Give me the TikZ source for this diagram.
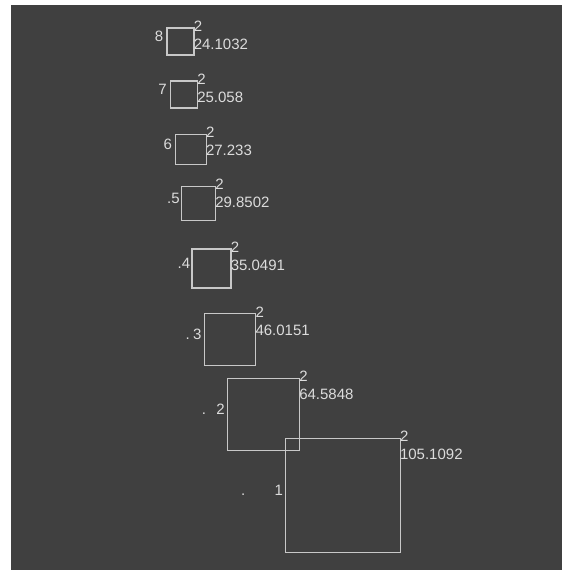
\documentclass[tikz,border=0pt]{standalone}
\usepackage{fontspec}
\setmainfont{Liberation Sans}
\definecolor{bgdark}{RGB}{64,64,64}
\definecolor{sqgray}{RGB}{200,200,200}
\definecolor{lblgray}{RGB}{220,220,220}
\usetikzlibrary{positioning}

\begin{document}
\begin{tikzpicture}[x=1pt, y=-1pt,
  sqbox/.style={draw=sqgray, line width=1.2pt, inner sep=0pt},
  numlbl/.style={text=lblgray, font=\fontsize{15}{17}\selectfont, inner sep=0pt}]

\useasboundingbox (0,0) rectangle (566,570);
\fill[bgdark] (11,5) rectangle (562,570);

% squares
\node[sqbox, minimum size=27pt]   (sq8) at (180.5,41.5) {};
\node[sqbox, minimum size=27pt]   (sq7) at (184,94.5) {};
\node[sqbox, minimum size=30.5pt] (sq6) at (191,149.5) {};
\node[sqbox, minimum size=34pt]   (sq5) at (198.5,203.5) {};
\node[sqbox, minimum size=39pt]   (sq4) at (211.5,268.5) {};
\node[sqbox, minimum size=51.5pt] (sq3) at (230,339.5) {};
\node[sqbox, minimum size=72pt]   (sq2) at (263.5,414.5) {};
\node[sqbox, minimum size=114.5pt] (sq1) at (343,495.5) {};

% left labels
\node[numlbl, anchor=base east] (l8) at ([xshift=-3pt]sq8.west) {8};
\node[numlbl, anchor=base east] (l7) at ([xshift=-3pt]sq7.west) {7};
\node[numlbl, anchor=base east] (l6) at ([xshift=-3pt]sq6.west) {6};
\node[numlbl, anchor=base east] (l5) at ([xshift=-1pt]sq5.west) {.5};
\node[numlbl, anchor=base east] (l4) at ([xshift=-1pt]sq4.west) {.4};
\node[numlbl, anchor=base east] (l3) at ([xshift=-2pt]sq3.west) {3};
\node[numlbl, anchor=base east] (l2) at ([xshift=-2pt]sq2.west) {2};
\node[numlbl, anchor=base east] (l1) at ([xshift=-2pt]sq1.west) {1};
\node[numlbl, anchor=base east] (d3) at ([xshift=-3pt]l3.base west) {.};
\node[numlbl, anchor=base east] (d2) at ([xshift=-10pt]l2.base west) {.};
\node[numlbl, anchor=base east] (d1) at ([xshift=-29pt]l1.base west) {.};

% exponent and value at the top right corner
\node[numlbl, anchor=base west] (e8) at ([shift={(-1,4)}]sq8.north east) {2};
\node[numlbl, anchor=base west] (v8) at ([shift={(-1,22)}]sq8.north east) {24.1032};
\node[numlbl, anchor=base west] (e7) at ([shift={(-1,4)}]sq7.north east) {2};
\node[numlbl, anchor=base west] (v7) at ([shift={(-1,22)}]sq7.north east) {25.058};
\node[numlbl, anchor=base west] (e6) at ([shift={(-1,4)}]sq6.north east) {2};
\node[numlbl, anchor=base west] (v6) at ([shift={(-1,22)}]sq6.north east) {27.233};
\node[numlbl, anchor=base west] (e5) at ([shift={(-1,4)}]sq5.north east) {2};
\node[numlbl, anchor=base west] (v5) at ([shift={(-1,22)}]sq5.north east) {29.8502};
\node[numlbl, anchor=base west] (e4) at ([shift={(-1,4)}]sq4.north east) {2};
\node[numlbl, anchor=base west] (v4) at ([shift={(-1,22)}]sq4.north east) {35.0491};
\node[numlbl, anchor=base west] (e3) at ([shift={(-1,4)}]sq3.north east) {2};
\node[numlbl, anchor=base west] (v3) at ([shift={(-1,22)}]sq3.north east) {46.0151};
\node[numlbl, anchor=base west] (e2) at ([shift={(-1,4)}]sq2.north east) {2};
\node[numlbl, anchor=base west] (v2) at ([shift={(-1,22)}]sq2.north east) {64.5848};
\node[numlbl, anchor=base west] (e1) at ([shift={(-1,4)}]sq1.north east) {2};
\node[numlbl, anchor=base west] (v1) at ([shift={(-1,22)}]sq1.north east) {105.1092};

\end{tikzpicture}
\end{document}
